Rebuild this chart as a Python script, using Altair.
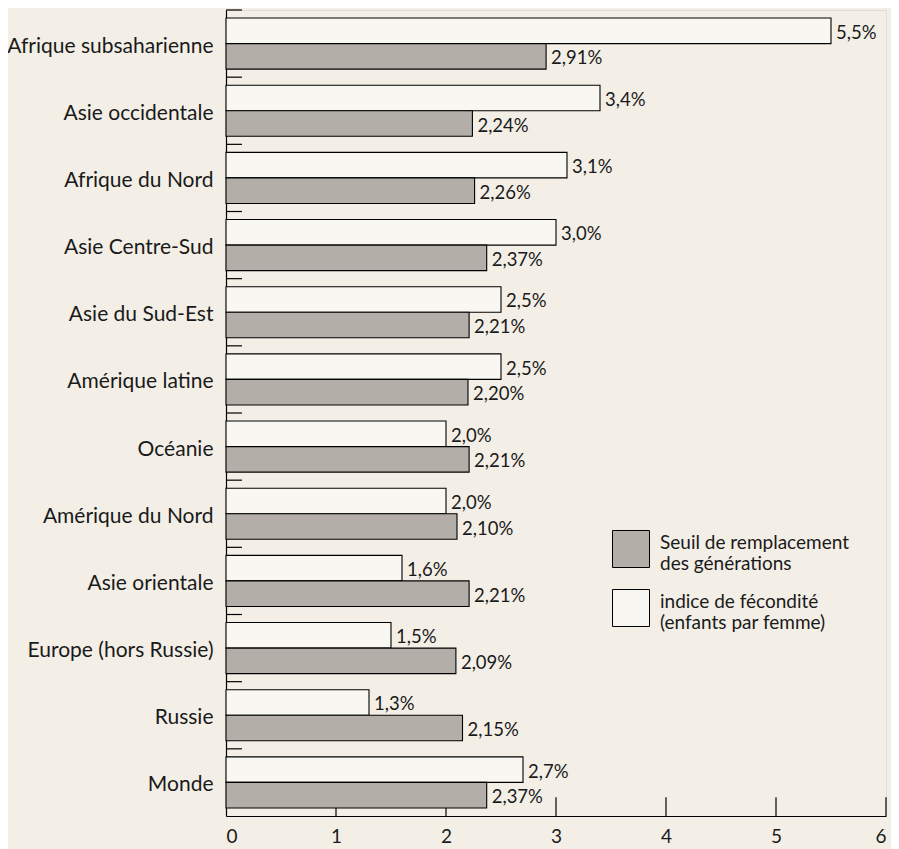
import altair as alt
import pandas as pd

regions = [
    "Afrique subsaharienne", "Asie occidentale", "Afrique du Nord", "Asie Centre-Sud",
    "Asie du Sud-Est", "Amérique latine", "Océanie", "Amérique du Nord",
    "Asie orientale", "Europe (hors Russie)", "Russie", "Monde",
]
fecondite = [5.5, 3.4, 3.1, 3.0, 2.5, 2.5, 2.0, 2.0, 1.6, 1.5, 1.3, 2.7]
seuil = [2.91, 2.24, 2.26, 2.37, 2.21, 2.20, 2.21, 2.10, 2.21, 2.09, 2.15, 2.37]

S_SEUIL = "Seuil de remplacement|des générations"
S_FEC = "indice de fécondité|(enfants par femme)"
x_ticks = [0, 1, 2, 3, 4, 5, 6]

rows = []
for r, f, s in zip(regions, fecondite, seuil):
    rows.append({"region": r, "serie": S_FEC, "value": f,
                 "label": f"{f:.1f}".replace(".", ",") + "%"})
    rows.append({"region": r, "serie": S_SEUIL, "value": s,
                 "label": f"{s:.2f}".replace(".", ",") + "%"})
df = pd.DataFrame(rows)

n = len(regions)
# decoration ticks: y-axis band boundaries (pointing right) and x-axis ticks (pointing up)
deco = []
for i in range(n):
    deco.append({"value": 0, "value2": 0.145, "idx": i, "idx2": i})
for k in x_ticks[1:]:
    deco.append({"value": k, "value2": k, "idx": n, "idx2": n - 0.28})
deco_df = pd.DataFrame(deco)

W, H = 660, 806
xscale = alt.Scale(domain=[0, 6], nice=False)
xaxis = alt.Axis(values=x_ticks, format="d", title=None, grid=False, ticks=False,
                 domainColor="black", domainWidth=1.2, labelFontSize=19,
                 labelPadding=11, labelColor="#1a1a1a")

ticks = alt.Chart(deco_df).mark_rule(color="black", strokeWidth=1.2).encode(
    x=alt.X("value:Q", scale=xscale, axis=xaxis),
    x2="value2:Q",
    y=alt.Y("idx:Q", scale=alt.Scale(domain=[0, n], nice=False, reverse=True, zero=False), axis=None),
    y2="idx2:Q",
)

yenc = alt.Y("region:N", sort=regions,
             scale=alt.Scale(paddingInner=0.24, paddingOuter=0.12),
             axis=alt.Axis(title=None, ticks=False, orient="left", domainColor="black",
                           domainWidth=1.2, labelFontSize=21, labelPadding=13,
                           labelColor="#1a1a1a", labelLimit=0, labelOffset=3))
yoff = alt.YOffset("serie:N", sort=[S_FEC, S_SEUIL])

bars = alt.Chart(df).mark_bar(stroke="black", strokeWidth=1.1).encode(
    x=alt.X("value:Q", scale=xscale, axis=xaxis),
    y=yenc,
    yOffset=yoff,
    fill=alt.Fill("serie:N",
                  scale=alt.Scale(domain=[S_SEUIL, S_FEC], range=["#b3afa8", "#f9f7f2"]),
                  legend=alt.Legend(title=None, orient="none", legendX=386, legendY=520,
                                    symbolType="square", symbolSize=1369,
                                    symbolStrokeColor="black", symbolStrokeWidth=1,
                                    labelExpr="split(datum.label, '|')",
                                    labelBaseline="alphabetic",
                                    labelFontSize=19, labelLimit=0, labelOffset=10,
                                    labelColor="#1a1a1a", rowPadding=13)),
)

labels = alt.Chart(df).mark_text(align="left", baseline="middle", dx=5, dy=2,
                                 fontSize=18.5, color="#1a1a1a").encode(
    x=alt.X("value:Q", scale=xscale, axis=xaxis),
    y=yenc,
    yOffset=yoff,
    text="label:N",
)

chart = alt.layer(ticks, alt.layer(bars, labels)).resolve_scale(y="independent").properties(
    width=W, height=H,
    autosize=alt.AutoSizeParams(type="none"),
    padding={"left": 218, "top": 2, "right": 5, "bottom": 33},
    background="#f3efe7",
).configure_view(stroke=None).configure(font="Lato")

chart.save("out.html", embed_options={"renderer": "svg", "actions": False})
